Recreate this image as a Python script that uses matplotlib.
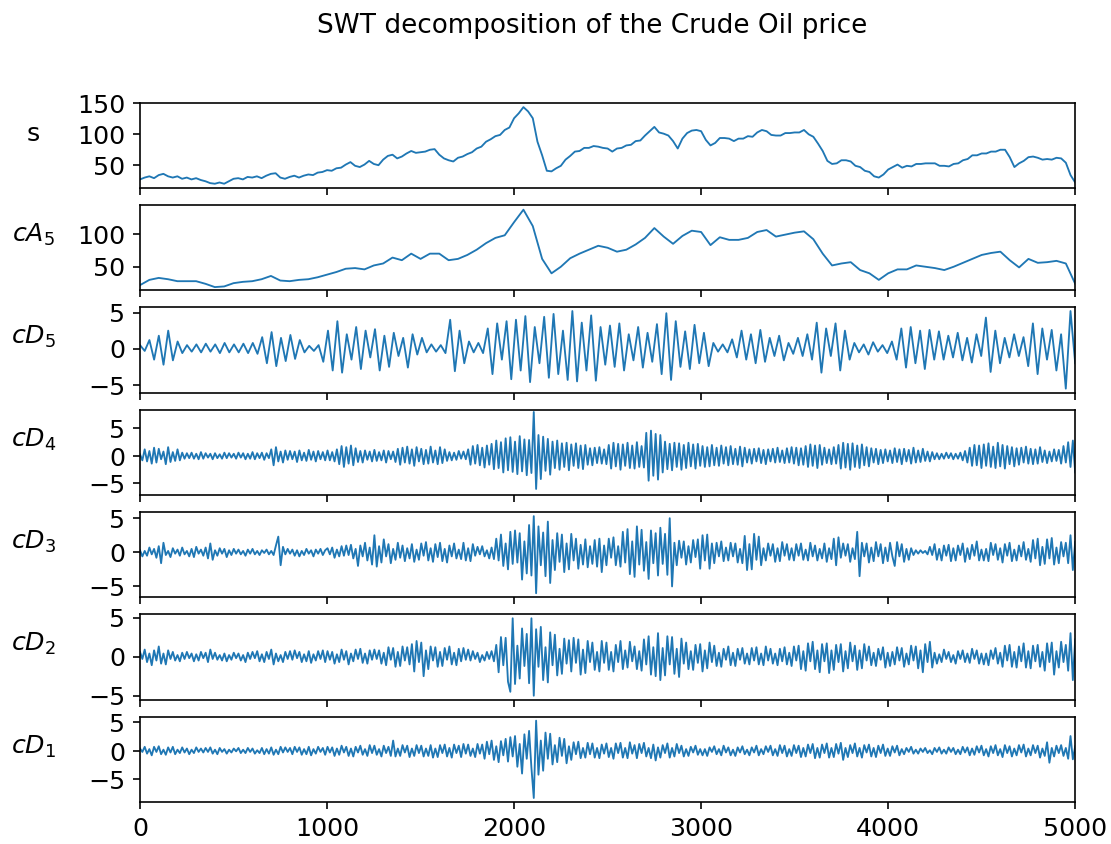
import numpy as np
import matplotlib
matplotlib.use("Agg")
from matplotlib import pyplot as plt

# Señal original (precio del crudo), muestreada cada 25 puntos
s = [27, 30, 32, 29, 34, 36, 32, 30, 32, 28, 30, 27, 29, 26, 24, 21, 20, 22, 20, 24,
     28, 29, 27, 31, 30, 32, 29, 33, 36, 37, 30, 28, 31, 33, 30, 33, 35, 34, 38, 39,
     42, 41, 45, 46, 51, 55, 49, 47, 51, 57, 52, 50, 59, 65, 67, 61, 64, 69, 73, 70,
     71, 72, 75, 76, 67, 61, 58, 56, 62, 64, 68, 71, 77, 80, 88, 92, 97, 99, 107, 111,
     126, 134, 144, 137, 126, 88, 66, 41, 40, 45, 49, 59, 65, 72, 73, 78, 78, 81, 80, 78,
     77, 72, 77, 78, 82, 83, 89, 90, 98, 105, 112, 103, 101, 98, 89, 77, 93, 102, 106, 107,
     105, 91, 82, 86, 94, 94, 93, 89, 93, 93, 97, 96, 103, 107, 105, 99, 98, 98, 102, 102,
     103, 103, 107, 100, 96, 85, 73, 57, 52, 53, 58, 58, 56, 49, 47, 41, 39, 32, 30, 35,
     43, 47, 51, 46, 49, 48, 52, 52, 53, 53, 53, 49, 49, 48, 52, 53, 58, 60, 66, 66,
     69, 69, 72, 72, 75, 75, 63, 47, 53, 57, 63, 64, 62, 59, 60, 59, 62, 61, 54, 34,
     22]

# Aproximación de nivel 5
cA5 = [22, 30, 33, 31, 28, 28, 28, 24, 19, 20, 25, 27, 28, 31, 36, 29, 28, 30, 31, 34,
       38, 42, 47, 48, 46, 52, 55, 64, 60, 70, 62, 70, 70, 60, 62, 68, 76, 86, 94, 98,
       118, 137, 112, 62, 40, 50, 63, 70, 76, 82, 79, 73, 76, 84, 94, 109, 96, 85, 97, 105,
       103, 83, 95, 91, 91, 94, 103, 106, 96, 99, 102, 104, 92, 70, 52, 55, 57, 45, 40, 30,
       40, 46, 46, 52, 50, 48, 45, 50, 56, 62, 68, 71, 73, 60, 49, 62, 56, 57, 59, 55,
       24]

# Detalles de nivel 5 (picos y valles)
cD5 = [0.5, -0.3, 1.2, -1.5, 1.8, -2.2, 2.5, -1.6, 1.0, -0.6, 0.5, -0.4, 0.6, -0.5, 0.7, -0.4, 0.6, -0.6, 0.8, -0.5,
       0.6, -0.5, 0.7, -0.6, 0.8, -0.7, 1.6, -2.0, 2.3, -2.4, 1.5, -1.7, 1.9, -1.4, 1.2, -0.5, 0.4, -0.3, 0.5, -1.8,
       2.5, -3.0, 3.8, -3.3, 2.0, -1.5, 3.0, -2.8, 2.5, -1.2, 2.7, -3.0, 1.8, -2.5, 2.2, -1.0, 1.5, -2.6, 2.0, -0.8,
       1.5, -0.5, 0.6, -0.4, 0.5, -0.6, 4.0, -3.1, 2.5, -2.0, 1.0, -0.5, 0.8, -0.6, 2.8, -3.5, 3.5, -1.5, 3.8, -4.2,
       4.0, -3.0, 4.5, -4.6, 3.0, -2.0, 4.4, -4.0, 4.8, -3.5, 2.5, -4.3, 5.2, -4.5, 3.6, -3.0, 4.6, -4.4, 3.0, -2.2,
       3.2, -2.5, 3.5, -3.0, 2.0, -1.6, 3.0, -2.6, 2.2, -1.8, 3.4, -3.5, 4.9, -4.3, 3.8, -2.5, 2.4, -2.8, 3.3, -2.0,
       2.2, -2.4, 0.8, -0.4, 0.6, -0.5, 1.3, -1.2, 2.5, -1.5, 2.0, -2.0, 2.6, -1.8, 1.5, -1.0, 1.8, -1.6, 0.8, -0.7,
       1.5, -1.0, 2.0, -1.5, 3.6, -3.3, 2.8, -1.0, 3.5, -3.0, 2.5, -1.5, 0.8, -0.5, 0.6, -0.8, 0.9, -0.4, 0.5, -0.6,
       1.0, -1.5, 2.8, -2.6, 3.0, -2.0, 2.5, -2.8, 2.6, -1.5, 2.4, -1.5, 1.8, -1.2, 2.2, -1.6, 1.5, -1.9, 2.0, -1.0,
       4.3, -3.2, 2.5, -2.0, 1.5, -1.2, 2.0, -1.0, 1.6, -2.4, 3.5, -3.5, 2.8, -1.5, 2.6, -3.0, 2.0, -5.5, 5.2, -2.0]

# Detalles de nivel 4
cD4 = [0.3, -0.8, 1.2, -1.0, 0.9, -1.4, 1.5, -1.2, 1.3, -0.6, 0.8, -1.5, 1.6, -1.1, 0.7, -0.9, 1.2, -0.8, 0.6, -0.5,
       0.5, -0.4, 0.6, -0.5, 0.4, -0.6, 0.7, -0.5, 0.5, -0.3, 0.4, -0.6, 0.5, -0.4, 0.3, -0.5, 0.6, -0.4, 0.5, -0.3,
       0.4, -0.5, 0.6, -0.3, 0.5, -0.6, 0.4, -0.5, 0.7, -0.6, 0.5, -0.4, 0.6, -0.7, 0.5, -0.4, 1.2, -1.7, 1.6, -1.0,
       0.8, -1.2, 1.0, -0.7, 0.9, -0.6, 0.8, -1.1, 1.0, -0.8, 0.6, -0.9, 1.1, -0.7, 0.8, -1.0, 0.9, -0.6, 0.7, -0.8,
       1.0, -0.8, 0.7, -1.0, 1.2, -1.5, 1.8, -2.0, 1.6, -1.4, 1.9, -1.7, 1.4, -1.1, 0.9, -1.2, 1.0, -0.7, 0.8, -1.0,
       1.1, -0.9, 0.7, -0.8, 1.0, -1.2, 0.9, -0.6, 0.8, -1.1, 1.3, -1.6, 1.5, -1.2, 1.7, -1.4, 1.2, -1.8, 1.6, -1.0,
       1.3, -1.5, 1.1, -1.4, 1.7, -1.2, 1.0, -1.5, 1.6, -1.3, 1.2, -0.9, 0.7, -0.8, 0.6, -0.7, 0.9, -0.5, 0.8, -0.6,
       1.2, -1.6, 1.8, -1.4, 2.0, -1.7, 1.5, -2.1, 1.9, -1.6, 2.2, -2.4, 2.8, -2.2, 2.5, -3.0, 3.2, -2.6, 3.4, -2.9,
       2.6, -3.3, 3.6, -2.8, 3.0, -3.5, 2.9, -3.1, 8.0, -6.0, 3.8, -4.2, 3.5, -2.7, 3.1, -3.4, 2.6, -2.2, 2.8, -2.5,
       2.3, -2.0, 2.4, -2.6, 2.1, -1.8, 2.3, -2.2, 1.9, -2.4, 2.0, -1.6, 1.4, -1.7, 1.5, -1.3, 1.6, -1.4, 1.2, -1.5,
       2.0, -2.3, 2.4, -1.9, 2.2, -2.5, 2.1, -1.8, 2.4, -2.2, 1.9, -2.3, 2.5, -2.0, 1.8, -2.1, 4.2, -4.5, 4.6, -3.6,
       4.0, -4.3, 3.8, -3.0, 2.6, -2.4, 2.2, -2.6, 2.4, -2.0, 2.3, -2.5, 2.0, -2.2, 2.4, -1.9, 2.1, -2.3, 2.2, -1.8,
       1.8, -2.0, 1.6, -1.9, 2.0, -1.7, 1.5, -1.8, 1.9, -1.4, 1.6, -1.7, 1.8, -1.5, 1.3, -1.6, 1.7, -1.9, 1.5, -1.2,
       1.2, -1.4, 1.3, -1.0, 1.4, -1.3, 1.1, -1.5, 1.2, -1.0, 1.3, -1.2, 1.5, -1.1, 1.0, -1.3, 1.4, -1.2, 1.6, -1.4,
       1.5, -1.7, 1.4, -1.6, 1.8, -2.0, 2.1, -1.8, 1.9, -2.2, 2.0, -1.6, 1.5, -1.3, 1.2, -1.5, 1.6, -1.4, 2.0, -2.3,
       2.4, -2.1, 2.2, -2.5, 2.3, -2.0, 1.9, -2.2, 2.1, -1.7, 1.6, -1.9, 1.4, -1.2, 1.3, -1.5, 1.1, -1.3, 1.2, -1.0,
       1.0, -1.3, 1.4, -1.1, 1.2, -1.5, 1.3, -1.0, 1.1, -1.4, 1.5, -1.2, 1.0, -1.1, 1.3, -0.9, 0.8, -1.0, 0.7, -0.6,
       0.5, -0.6, 0.4, -0.5, 0.6, -0.4, 0.5, -0.6, 0.4, -0.5, 0.6, -0.8, 0.9, -1.2, 1.5, -1.8, 2.0, -1.7, 1.9, -2.2,
       2.1, -1.8, 2.3, -2.0, 1.7, -2.2, 2.4, -1.9, 2.0, -2.3, 1.8, -1.5, 1.6, -1.9, 1.4, -1.6, 1.5, -1.2, 1.7, -1.4,
       1.3, -1.5, 1.2, -1.4, 1.6, -1.1, 1.0, -1.3, 0.8, -1.0, 1.2, -0.9, 1.1, -1.4, 1.8, -1.2, 2.5, -2.0, 2.8, -3.0]

# Detalles de nivel 3
cD3 = [0.3, -0.6, 0.2, -0.5, 0.7, -0.3, 0.5, -0.8, 0.9, -1.6, 1.4, -0.4, 0.2, -0.7, 0.6, -0.2, 0.4, -0.5, 0.7, -0.3,
       0.2, -0.6, 0.5, -0.7, 0.8, -0.2, 0.4, -0.5, 0.7, -0.9, 1.3, -1.1, 0.3, -0.5, 0.6, -0.2, 0.5, -0.7, 0.3, -0.4,
       0.5, -0.2, 0.4, -0.3, 0.2, -0.5, 0.4, -0.2, 0.5, -0.3, 0.2, -0.4, 0.3, -0.1, 0.4, -0.3, 0.2, -0.4, 1.0, 2.3,
       -1.9, 0.8, -0.3, 0.5, -0.2, 0.4, -0.5, 0.3, -0.6, 0.2, -0.4, 0.5, -0.2, 0.3, -0.6, 0.4, -0.2, 0.5, -0.4, 0.3,
       0.6, -0.3, 0.7, -0.8, 0.4, -0.6, 0.9, -0.5, 1.0, -0.4, 1.1, -0.9, 0.5, -2.0, 1.0, -0.6, 1.4, -1.2, 0.7, -1.8,
       2.5, -2.1, 0.9, -1.5, 1.9, -0.6, 1.2, -1.6, 0.5, -1.1, 1.4, -0.8, 1.0, -1.3, 0.6, -0.9, 1.2, -1.4, 0.4, -1.1,
       1.3, -0.5, 1.5, -1.2, 0.6, -1.4, 1.2, -0.7, 1.4, -1.3, 0.5, -1.5, 1.0, -0.6, 1.3, -0.9, 0.4, -1.0, 1.4, -1.2,
       0.6, -1.3, 1.2, -0.5, 0.8, -0.3, 0.9, -0.6, 0.3, -0.9, 0.7, -1.0, 2.0, -1.2, 2.6, -2.0, 1.3, -2.5, 3.0, -1.7,
       3.2, -1.5, 2.8, -4.0, 1.6, -3.1, 4.0, -3.4, 5.3, -6.0, 3.8, -1.9, 2.9, -3.5, 4.5, -4.5, 1.8, -2.6, 2.8, -1.4,
       2.6, -2.9, 1.3, -2.5, 2.7, -1.2, 2.0, -2.4, 1.1, -1.8, 1.9, -2.2, 0.9, -1.7, 1.8, -2.1, 2.0, -2.9, 1.0, -1.9,
       2.0, -0.8, 2.2, -1.9, 0.9, -2.1, 3.0, -1.5, 3.4, -3.2, 1.6, -3.6, 3.8, -1.8, 3.3, -2.7, 1.5, -3.9, 3.2, -1.6,
       2.8, -3.4, 3.6, -1.7, 2.7, -3.3, 5.0, -5.0, 1.4, -1.9, 1.7, -0.8, 1.6, -1.8, 0.9, -1.5, 1.8, -0.7, 1.9, -2.4,
       2.5, -1.2, 2.6, -2.4, 1.3, -1.6, 1.4, -0.6, 1.6, -1.3, 0.7, -1.2, 1.4, -0.6, 1.3, -1.5, 0.5, -1.6, 2.4, -2.6,
       1.2, -2.5, 2.7, -1.1, 2.3, -1.9, 0.6, -1.2, 1.3, -0.5, 1.2, -1.4, 0.6, -1.3, 1.5, -0.5, 1.2, -1.1, 0.6, -1.2,
       1.2, -0.5, 1.3, -1.1, 0.4, -1.2, 1.4, -0.6, 1.0, -1.2, 0.5, -0.9, 1.3, -1.4, 0.6, -1.0, 2.0, -1.9, 2.2, -0.8,
       1.3, -0.5, 1.2, -1.4, 0.6, -1.0, 3.0, -3.5, 1.4, -0.6, 1.3, -1.5, 0.7, -1.3, 1.5, -0.6, 1.2, -1.6, 0.7, -1.3,
       1.4, -0.6, -2.0, 1.5, -0.6, 1.2, -1.4, 0.5, -1.1, 0.6, -0.4, 0.3, -0.2, 0.3, -0.1, 0.2, -0.3, 0.8, -0.4, 1.2,
       -1.1, 0.5, -1.2, 1.0, -0.5, 1.1, -1.3, 0.6, -1.2, 1.0, -0.4, 1.3, -1.4, 0.6, -1.0, 1.1, -0.5, 1.6, -1.2, 0.4,
       -1.2, 0.5, -1.3, 1.4, -0.4, 1.2, -1.1, 0.6, -1.5, 1.2, -0.5, 1.4, -1.3, 0.4, -1.2, 1.0, -0.6, 1.5, -1.1, 0.5,
       -1.4, 1.8, -0.9, 2.0, -1.9, 0.8, -1.7, 1.9, -0.9, 2.1, -1.8, 0.7, -1.6, 1.5, -0.6, 1.4, -1.6, 2.5, -2.6, 1.5]

# Detalles de nivel 2
cD2 = [0.6, -0.3, 0.9, -0.7, 0.4, -1.1, 0.8, -0.5, 1.3, -0.9, 0.4, -1.0, 0.8, -0.3, 0.6, -0.5, 0.2, -0.6, 0.5, -0.3,
       0.6, -0.2, 0.4, -0.6, 0.3, -0.5, 0.6, -0.2, 0.5, -0.7, 0.9, -0.3, 0.5, -0.4, 0.2, -0.5, 0.4, -0.6, 0.2, -0.4,
       0.5, -0.2, 0.4, -0.5, 0.2, -0.7, 0.5, -0.3, 0.6, -0.2, 0.7, -0.6, 0.3, -0.7, 0.6, -0.3, 0.9, -1.0, 0.4, -0.6,
       0.2, -0.7, 0.6, -0.3, 0.7, -0.4, 0.8, -0.2, 0.6, -0.7, 0.3, -0.6, 0.7, -0.8, 0.3, -0.5, 0.7, -0.3, 0.8, -0.7,
       0.7, -0.4, 0.6, -0.9, 0.3, -0.7, 0.9, -0.4, 0.7, -1.0, 0.4, -0.6, 0.9, -0.3, 1.0, -0.8, 0.4, -0.9, 0.8, -0.4,
       0.9, -0.3, 0.8, -0.9, 0.5, -1.1, 1.2, -0.4, 1.1, -1.3, 0.6, -1.2, 1.3, -0.5, 1.2, -1.0, 1.6, -1.9, 2.0, -0.7,
       1.8, -2.5, 0.8, -1.6, 1.3, -0.5, 1.2, -1.3, 0.6, -1.2, 1.1, -0.4, 1.3, -1.0, 0.5, -1.1, 1.0, -0.6, 1.1, -0.4,
       0.9, -0.5, 0.7, -0.3, 0.5, -0.7, 0.2, -0.5, 0.6, -0.3, 0.7, -0.6, 1.5, -2.0, 2.5, -1.1, 2.4, -3.2, -4.5, 4.9,
       -3.5, 1.4, -2.8, 3.6, -1.2, 2.9, -3.4, 4.9, -5.0, 3.5, -1.3, 3.8, -3.0, 1.2, -3.3, 3.1, -1.1, 2.8, -2.4, 1.0,
       -2.2, 2.3, -0.9, 2.1, -1.9, 2.4, -0.8, 2.2, -2.3, 0.9, -2.1, 2.0, -0.7, 1.8, -1.7, 0.6, -1.9, 2.0, -0.8, 1.8,
       -1.7, 0.6, -1.9, 1.5, -0.7, 2.0, -1.6, 0.8, -1.4, 1.9, -0.6, 1.3, -1.6, 0.7, -1.8, 2.2, -1.0, 2.6, -2.3, 1.2,
       -2.5, 3.0, -3.0, 1.1, -2.4, 2.6, -1.0, 2.5, -2.2, 1.0, -2.6, 2.3, -0.9, 1.8, -1.6, 0.7, -1.7, 1.5, -0.8, 1.6,
       -1.9, 0.8, -1.5, 1.8, -0.7, 1.4, -1.2, 0.5, -1.3, 1.0, -0.4, 1.3, -1.1, 0.5, -1.2, 1.0, -0.4, 1.1, -0.9, 0.4,
       -1.0, 1.1, -0.5, 1.2, -1.0, 0.4, -1.1, 1.3, -0.5, 1.0, -0.9, 0.4, -1.1, 1.0, -0.6, 1.2, -1.0, 0.5, -1.2, 1.3,
       -0.5, 1.4, -1.6, 0.7, -1.8, 1.7, -0.6, 1.9, -1.6, 0.8, -2.0, 1.6, -0.6, 1.7, -2.1, 0.8, -1.7, 1.5, -0.7, 1.6,
       -1.9, 0.7, -1.5, 1.8, -0.6, 1.4, -1.7, 0.8, -1.5, 1.6, -0.5, 1.3, -1.1, 0.5, -1.2, 1.0, -0.4, 1.2, -1.4, 0.5,
       -1.2, 0.6, -1.0, 1.2, -0.5, 1.1, -1.3, 0.4, -1.0, 1.4, -0.5, 1.3, -1.5, 0.8, -2.0, 1.6, -0.7, 1.9, -1.4, 0.5,
       -0.9, 0.3, -0.7, 0.9, -0.3, 0.6, -0.7, 0.2, -0.9, 0.7, -0.3, 0.8, -0.7, 0.4, -0.8, 1.0, -0.3, 0.8, -0.9, 0.4,
       -1.0, 0.4, -1.1, 0.8, -0.3, 1.1, -0.9, 0.5, -1.3, 1.4, -0.5, 1.5, -1.3, 0.6, -1.4, 1.3, -0.6, 1.7, -1.4, 0.7,
       -1.5, 1.4, -0.6, 1.5, -1.3, 0.6, -1.8, 1.7, -0.7, 1.8, -2.3, 0.7, -1.4, 1.9, -0.7, 1.5, -1.8, 3.0, -3.0, 2.2]

# Detalles de nivel 1
cD1 = [0.4, -0.2, 0.7, -0.5, 0.3, -0.8, 0.7, -0.2, 0.8, -0.6, 0.2, -0.7, 0.6, -0.3, 0.7, -0.6, 0.2, -0.4, 0.6, -0.3,
       0.4, -0.6, 0.2, -0.4, 0.6, -0.2, 0.4, -0.3, 0.5, -0.2, 0.6, -0.5, 0.2, -0.6, 0.5, -0.2, 0.3, -0.5, 0.2, -0.3,
       0.4, -0.1, 0.5, -0.4, 0.2, -0.4, 0.5, -0.2, 0.4, -0.5, 0.1, -0.4, 0.5, -0.6, 0.3, -0.5, 0.6, -0.7, 0.2, -0.6,
       0.7, -0.3, 0.6, -0.2, 0.5, -0.6, 0.7, -0.2, 0.6, -0.7, 0.3, -0.6, 0.7, -0.8, 0.3, -0.5, 0.7, -0.2, 0.5, -0.7,
       0.7, -0.3, 0.6, -0.9, 0.4, -0.7, 0.9, -0.3, 0.7, -0.9, 0.4, -1.0, 0.7, -0.3, 0.9, -0.7, 0.3, -0.9, 1.0, -0.4,
       0.9, -0.7, 0.3, -1.0, 0.9, -0.4, 0.7, -0.9, 1.8, -1.0, 0.4, -0.9, 1.0, -0.3, 0.9, -1.1, 0.4, -0.9, 1.0, -0.4,
       0.9, -1.0, 0.4, -0.9, 1.0, -1.2, 0.4, -1.1, 1.0, -0.4, 1.1, -1.0, 0.5, -1.2, 1.1, -0.4, 0.9, -1.1, 1.2, -0.5,
       1.1, -0.9, 0.4, -1.1, 1.2, -0.5, 1.1, -1.4, 1.6, -0.6, 1.8, -1.6, 0.8, -2.0, 1.7, -0.8, 2.1, -1.9, 2.4, -1.0,
       2.6, -2.8, 1.2, -4.0, 2.9, -1.4, 3.5, -3.0, -8.3, 5.3, -4.2, 1.8, -3.5, 3.2, -1.4, 3.0, -2.4, 1.0, -2.0, 2.3,
       -0.9, 2.1, -2.2, 0.8, -1.6, 1.5, -0.6, 1.6, -1.3, 0.5, -1.2, 1.4, -0.6, 1.3, -1.2, 0.5, -1.3, 1.1, -0.5, 1.3,
       -1.1, 0.5, -1.4, 1.3, -0.4, 1.4, -1.2, 0.5, -1.3, 1.5, -0.5, 1.0, -1.3, 1.2, -0.4, 1.4, -1.0, 0.5, -1.3, 1.1,
       -1.7, 0.6, -1.2, 1.0, -0.4, 1.3, -1.2, 0.5, -1.0, 1.2, -0.4, 0.9, -1.0, 0.3, -0.9, 0.7, -0.3, 0.9, -0.7, 0.3,
       -0.8, 0.3, -0.9, 0.6, -0.2, 0.8, -0.6, 0.3, -0.8, 0.9, -0.3, 0.6, -0.8, 0.2, -0.9, 0.6, -0.3, 0.8, -0.6, 0.2,
       -0.8, 0.6, -0.3, 0.9, -0.8, 0.3, -0.6, 0.8, -0.2, 0.9, -0.8, 0.3, -0.9, 1.0, -0.4, 0.9, -1.0, 0.3, -0.9, 1.0,
       -0.4, 0.9, -1.1, 0.5, -1.0, 1.1, -0.4, 1.2, -1.3, 0.5, -1.2, 1.1, -0.4, 1.3, -1.2, 0.5, -1.1, 1.2, -0.5, 1.4,
       -1.6, 0.5, -1.1, 1.0, -0.4, 1.3, -1.0, 0.5, -1.2, 1.0, -0.3, 1.1, -1.0, 0.5, -1.1, 0.9, -0.4, 1.1, -0.9, 0.4,
       -0.9, 0.8, -0.3, 0.9, -0.8, 0.3, -0.6, 0.5, -0.2, 0.7, -0.5, 0.2, -0.5, 0.4, -0.2, 0.5, -0.4, 0.1, -0.6, 0.5,
       -0.2, 0.6, -0.5, 0.2, -0.5, 0.6, -0.2, 0.5, -0.6, 0.2, -0.6, 0.7, -0.3, 0.6, -0.8, 0.4, -0.7, 0.8, -0.3, 0.9,
       -0.8, 0.3, -1.0, 0.8, -0.4, 1.0, -0.8, 0.3, -1.1, 1.0, -0.4, 0.8, -1.0, 0.4, -0.8, 1.0, -0.3, 1.1, -1.0, 0.4,
       -0.8, 1.0, -0.4, 0.9, -1.2, 0.4, -0.9, 1.5, -2.1, 0.5, -1.0, 0.9, -0.4, 1.0, -0.9, 0.5, -1.4, 2.6, -1.5, 0.8]

series = [s, cA5, cD5, cD4, cD3, cD2, cD1]
labels = ["s", "$cA_5$", "$cD_5$", "$cD_4$", "$cD_3$", "$cD_2$", "$cD_1$"]
ylims = [(13, 151), (14, 144), (-6.06, 5.7), (-7.1, 8.4), (-6.6, 5.9), (-5.5, 5.4), (-9.0, 6.0)]
yticks = [[50, 100, 150], [50, 100], [-5, 0, 5], [-5, 0, 5], [-5, 0, 5], [-5, 0, 5], [-5, 0, 5]]
n_total = 5000  # longitud de la serie

plt.rcParams["font.size"] = 12.3

# Figura con un panel por componente
fig, axes = plt.subplots(7, 1, sharex=True, figsize=(1111.2 / 148, 844.2 / 148), dpi=148)
fig.subplots_adjust(left=0.126, right=0.9676, top=0.878, bottom=0.0498, hspace=0.2)

for ax, y, lab, lim, ticks in zip(axes, series, labels, ylims, yticks):
    x = np.linspace(0, n_total, len(y))
    ax.plot(x, y, color="C0", linewidth=0.9)
    ax.set_ylim(lim)
    ax.set_yticks(ticks)
    ax.set_ylabel(lab, rotation=0)
    ax.yaxis.set_label_coords(-0.114, 0.5)

axes[-1].set_xlim(0, n_total)
axes[-1].set_xticks(range(0, n_total + 1, 1000))

fig.suptitle("SWT decomposition of the Crude Oil price", x=0.533, y=0.985, fontsize=12.75)

fig.savefig("out.png", dpi=148)
